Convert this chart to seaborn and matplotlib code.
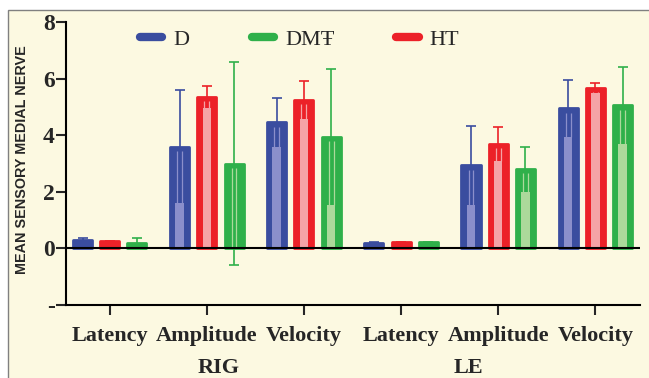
import pandas as pd
import seaborn as sns
import matplotlib.pyplot as plt
from matplotlib.patches import Rectangle
from matplotlib.lines import Line2D

# values
positions = ["RIG Latency", "RIG Amplitude", "RIG Velocity", "LE Latency", "LE Amplitude", "LE Velocity"]
tick_labels = ["Latency", "Amplitude", "Velocity", "Latency", "Amplitude", "Velocity"]
groups = ["D", "HT", "DMŦ"]
legend_order = ["D", "DMŦ", "HT"]

mean_D = [0.28, 3.6, 4.45, 0.2, 2.93, 4.95]
sd_D = [0.08, 2.0, 0.85, 0.02, 1.4, 1.0]
mean_HT = [0.25, 5.35, 5.25, 0.21, 3.7, 5.67]
sd_HT = [0.02, 0.4, 0.68, 0.02, 0.6, 0.18]
mean_DMT = [0.18, 3.0, 3.95, 0.21, 2.8, 5.05]
sd_DMT = [0.17, 3.57, 2.4, 0.02, 0.8, 1.35]

colors = {"D": "#3a4d9f", "HT": "#ec2128", "DMŦ": "#2fb04a"}
light = {"D": "#8b8fcb", "HT": "#f5a3a6", "DMŦ": "#acd99b"}
cream = "#fcf9e1"

means = {"D": mean_D, "HT": mean_HT, "DMŦ": mean_DMT}
sds = {"D": sd_D, "HT": sd_HT, "DMŦ": sd_DMT}

df = pd.DataFrame({
    "pos": positions * 3,
    "group": [g for g in groups for _ in positions],
    "mean": mean_D + mean_HT + mean_DMT,
})

sns.set_style("ticks")
plt.rcParams["font.family"] = ["Liberation Serif", "DejaVu Serif"]

fig = plt.figure(figsize=(6.49, 3.78), dpi=100, facecolor="white")
fig.patches.append(Rectangle((8 / 649, -0.01), 1.0, (378 - 10) / 378 + 0.01,
                             transform=fig.transFigure, facecolor=cream,
                             edgecolor="#808080", lw=1, zorder=-1))
ax = fig.add_axes([66 / 649, 73 / 378, (640 - 66) / 649, (305 - 22) / 378])
ax.set_facecolor("none")

sns.barplot(data=df, x="pos", y="mean", hue="group", order=positions, hue_order=groups,
            palette=colors, width=0.84, gap=0.3, errorbar=None, legend=False,
            saturation=1, linewidth=2, ax=ax)

for g, cont in zip(groups, ax.containers):
    for i, p in enumerate(cont.patches):
        p.set_edgecolor(colors[g])
        p.set_joinstyle("round")
        w = p.get_width()
        xc = p.get_x() + w / 2
        m, s = means[g][i], sds[g][i]
        ax.errorbar(xc, m, yerr=s, color=colors[g], lw=1.2, capsize=3.3,
                    capthick=1.2, zorder=0.5)
        if m > 1:
            low = max(m - s, 0)
            ax.bar(xc, low, width=w * 0.45, color=light[g], lw=0, zorder=2)
            ax.vlines([xc - w * 0.13, xc + w * 0.13], low, m - 0.15,
                      color=light[g], lw=0.9, zorder=2)

ax.axhline(0, color="black", lw=1.5, zorder=3)
ax.set_xlim(-0.45, 5.46)
ax.set_ylim(-2, 8)
ax.set_yticks([8, 6, 4, 2, 0, -2])
ax.set_yticklabels(["8", "6", "4", "2", "0", "-"], fontsize=17, fontweight="bold")
ax.set_xticks(range(6))
ax.set_xticklabels(tick_labels, fontsize=16, fontweight="bold")
ax.tick_params(axis="y", length=7, width=1.5, pad=1)
ax.tick_params(axis="x", length=7, width=1.5, pad=8)
for side in ["top", "right"]:
    ax.spines[side].set_visible(False)
for side in ["left", "bottom"]:
    ax.spines[side].set_linewidth(1.5)
    ax.spines[side].set_color("black")
ax.set_xlabel("")
ax.set_ylabel("")

fig.text(22 / 649, (378 - 160) / 378, "MEAN SENSORY MEDIAL NERVE", rotation=90,
         ha="center", va="center", fontsize=10.4, fontweight="bold",
         family=["Liberation Sans", "DejaVu Sans"])
fig.text(219 / 649, 0.012, "RIG", ha="center", va="baseline", fontsize=16, fontweight="bold")
fig.text(468 / 649, 0.012, "LE", ha="center", va="baseline", fontsize=16, fontweight="bold")

handles = [Line2D([0], [0], color=colors[g], lw=6, solid_capstyle="round") for g in legend_order]
fig.legend(handles, legend_order, loc="center left", bbox_to_anchor=(140 / 649, (378 - 40) / 378),
           ncol=3, frameon=False, fontsize=16, borderpad=0, borderaxespad=0,
           handlelength=1.0, handletextpad=0.5, columnspacing=2.8)

fig.savefig("out.png", dpi=100, facecolor=fig.get_facecolor())
